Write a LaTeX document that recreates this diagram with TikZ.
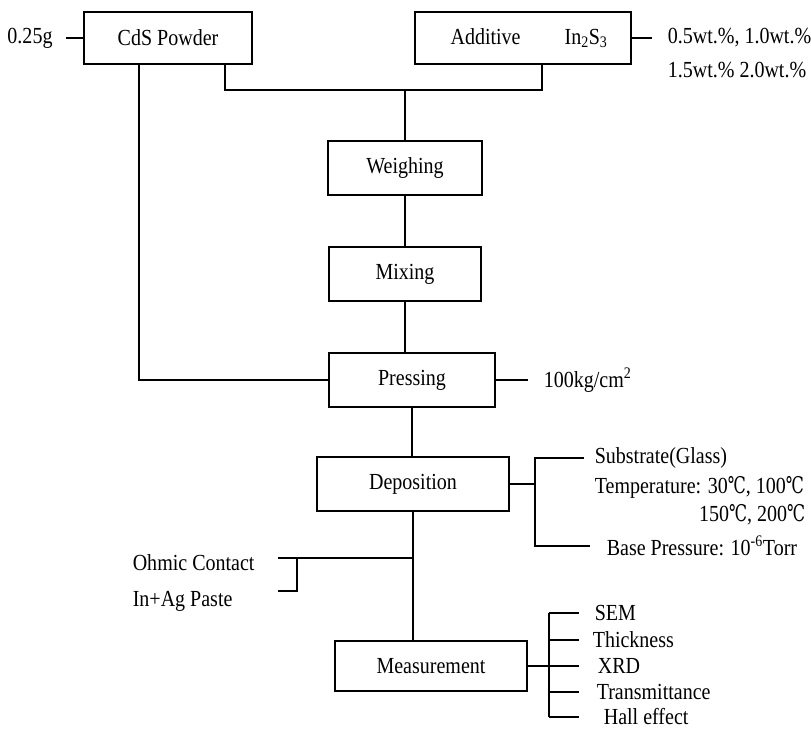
\documentclass[tikz,border=0pt]{standalone}
\usepackage{fontspec}
\setmainfont{Liberation Serif}[FakeStretch=0.87]
\newfontfamily\celfont{DejaVu Serif}[FakeStretch=0.7]
\newcommand\cel{{\celfont ℃}}

\begin{document}
\begin{tikzpicture}[x=1pt, y=-1pt, line width=1.6pt, font=\fontsize{23}{27}\selectfont]
    \tikzset{box/.style={draw, minimum height=52pt, inner sep=0pt},
             note/.style={inner sep=0pt}};
    \useasboundingbox (0, 0) rectangle (811, 731);

    % Sources
    \path (168, 38) node [box, minimum width=168pt] (cds) {CdS Powder};
    \path (523, 38) node [box, minimum width=216pt] (add) {\hspace{12pt}Additive\hspace{44pt}In\textsubscript{2}S\textsubscript{3}};

    % Process
    \path (405, 168) node [box, minimum width=154pt, minimum height=54pt] (weigh) {Weighing};
    \path (405, 274) node [box, minimum width=152pt, minimum height=54pt] (mix) {Mixing};
    \path (412, 380) node [box, minimum width=166pt, minimum height=54pt] (press) {Pressing};
    \path (413, 484) node [box, minimum width=192pt, minimum height=54pt] (depo) {Deposition};
    \path (431, 666) node [box, minimum width=192pt, minimum height=50pt] (meas) {Measurement};

    % Notes
    \path (30, 38) node [note] (cds amt) {0.25g};
    \path (667, 38) node [note, anchor=west] (wt a) {0.5wt.\%, 1.0wt.\%};
    \path (667, 70) node [note, anchor=west] (wt b) {1.5wt.\% 2.0wt.\%};
    \path (543, 380) node [note, anchor=west] (load) {100kg/cm\textsuperscript{2}};

    \path (594, 458) node [note, anchor=west] (sub) {Substrate(Glass)};
    \path (594, 487) node [note, anchor=west] (temp a) {Temperature: 30\cel, 100\cel};
    \path (806, 515) node [note, anchor=east] (temp b) {150\cel, 200\cel};
    \path (606, 546) node [note, anchor=west] (base) {Base Pressure: 10\textsuperscript{-6}Torr};

    \path (132, 563) node [note, anchor=west] (ohm) {Ohmic Contact};
    \path (132, 601) node [note, anchor=west] (paste) {In+Ag Paste};

    \path (594, 613) node [note, anchor=west] (sem) {SEM};
    \path (592, 640) node [note, anchor=west] (thick) {Thickness};
    \path (597, 666) node [note, anchor=west] (xrd) {XRD};
    \path (596, 692) node [note, anchor=west] (trans) {Transmittance};
    \path (603, 717) node [note, anchor=west] (hall) {Hall effect};

    % Junctions
    \coordinate (top j) at (405, 90);
    \coordinate (dep j) at (535, 484);
    \coordinate (ohm j) at (413, 558);
    \coordinate (ohm l) at (278, 558);
    \coordinate (ohm k) at (297, 558);
    \coordinate (ohm b) at (278, 591);
    \coordinate (meas j) at (549, 666);
    \coordinate (meas r) at (579, 666);

    % Edges
    \draw ([xshift=13pt]cds amt.east) -- (cds.west);
    \draw ([xshift=-29pt]cds.south) |- (press.west);
    \draw ([xshift=57pt]cds.south) |- (top j) -| ([xshift=19pt]add.south);
    \draw (top j) -- (weigh.north);
    \foreach \a/\b in {weigh/mix, mix/press, press/depo, depo/meas} { \draw (\a.south) -- (\a.south |- \b.north); }

    \draw (add.east) -- ([xshift=-15pt]wt a.west);
    \draw (press.east) -- ([xshift=-15pt]load.west);

    \draw (depo.east) -- (dep j);
    \draw ([xshift=-10pt]sub.west) -| (dep j) |- ([xshift=-16pt]base.west);

    \draw (ohm l) -- (ohm j);
    \draw (ohm k) |- (ohm b);

    \draw (meas.east) -- (meas j);
    \draw (meas j |- sem.west) -- (meas j |- hall.west);
    \foreach \n in {sem, thick, xrd, trans, hall} { \draw (meas j |- \n.west) -- (meas r |- \n.west); }
  \end{tikzpicture}
\end{document}
